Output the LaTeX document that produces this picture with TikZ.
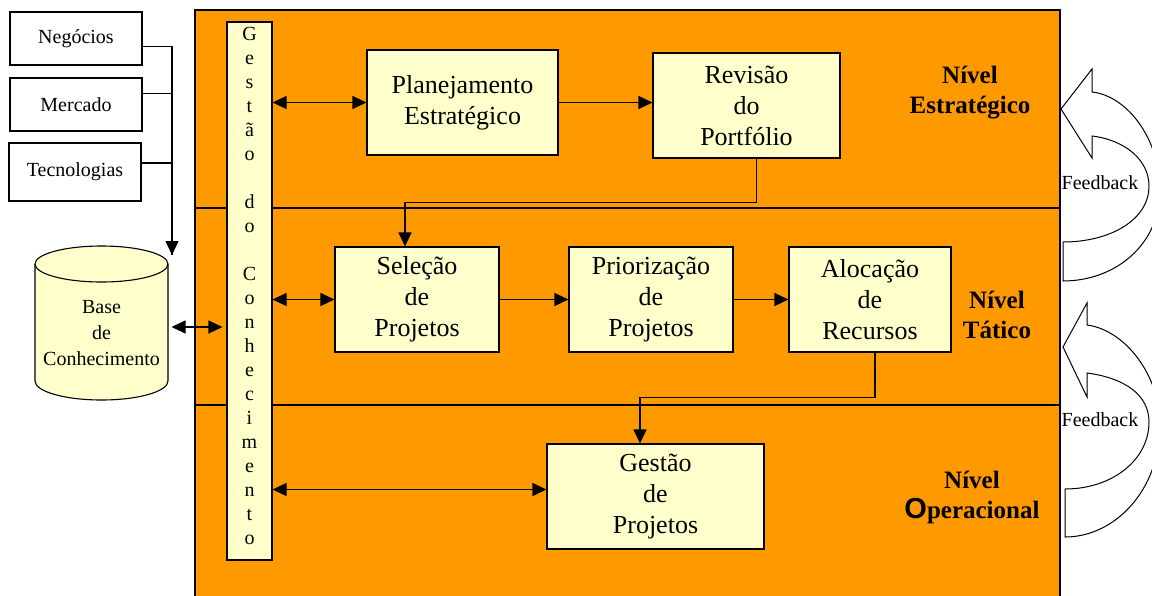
\documentclass[tikz,border=0pt]{standalone}
\usepackage{fontspec}
\setmainfont{Liberation Serif}
\newfontfamily\arialO{Liberation Sans}
\usetikzlibrary{arrows.meta,positioning}
\definecolor{laranja}{HTML}{FF9900}
\definecolor{creme}{HTML}{FFFFCC}

\begin{document}
\begin{tikzpicture}[x=1pt,y=-1pt,line width=1.1pt,
    caixa/.style={shape=rectangle,draw=black,fill=creme,align=center,inner sep=0pt,
        minimum height=105pt,font=\fontsize{26}{31}\selectfont},
    fonte/.style={shape=rectangle,draw=black,fill=white,inner sep=0pt,
        minimum width=132pt,font=\fontsize{20}{24}\selectfont},
    nivel/.style={align=center,font=\bfseries\fontsize{25}{30}\selectfont},
    seta/.style={-{Triangle[length=14pt,width=13pt]}},
    dupla/.style={{Triangle[length=14pt,width=13pt]}-{Triangle[length=14pt,width=13pt]}},
    retorno/.style={draw=black,fill=white,line width=1pt}]
    \useasboundingbox (0,0) rectangle (1152,595);
    \clip (0,0) rectangle (1152,595);

    % faixas dos niveis
    \fill[laranja] (195,10) rectangle (1060,600);
    \draw (195,600) -- (195,10) -- (1060,10) -- (1060,600);
    \draw (195,208) -- (1060,208);
    \draw (195,405) -- (1060,405);

    % gestao do conhecimento
    \node[shape=rectangle,draw=black,fill=creme,minimum width=45pt,minimum height=538pt,
        inner sep=0pt] (gc) at (249.5,291) {};
    \node[align=center,inner sep=0pt,font=\fontsize{20}{24}\selectfont] (gct) at (249.5,285.5)
        {G\\e\\s\\t\\ã\\o\\\mbox{}\\d\\o\\\mbox{}\\C\\o\\n\\h\\e\\c\\i\\m\\e\\n\\t\\o};

    % fontes externas
    \node[fonte,minimum height=53pt] (neg) at (76,38.5) {Negócios};
    \node[fonte,minimum height=53pt] (mer) at (76,104.5) {Mercado};
    \node[fonte,minimum height=58pt] (tec) at (75,172) {Tecnologias};

    % base de conhecimento
    \fill[creme] (35,264) -- (35,381) arc[start angle=180,end angle=360,x radius=66.5pt,y radius=19pt]
        -- (168,264) arc[start angle=0,end angle=180,x radius=66.5pt,y radius=18pt] -- cycle;
    \draw (35,264) -- (35,381) arc[start angle=180,end angle=360,x radius=66.5pt,y radius=19pt]
        -- (168,264);
    \draw (101.5,264) ellipse[x radius=66.5pt,y radius=18pt];
    \node[align=center,minimum width=133pt,inner sep=0pt,
        font=\fontsize{20}{26}\selectfont] (kb) at (101.5,333) {Base\\de\\Conhecimento};

    \coordinate (kbin) at (172,255);
    \draw ([yshift=-8pt]neg.east) -| (kbin);
    \draw ([yshift=11pt]mer.east) -- ++(30,0);
    \draw ([yshift=9pt]tec.east) -- ++(31,0);
    \draw[seta] (172,230) -- (kbin);
    \path [dupla,shorten >=4pt,shorten <=3pt] ([yshift=6pt]kb.east) edge ([yshift=6pt]gc.west |- kb.east);

    % processos
    \node[caixa,minimum width=191pt] (plan) at (462.5,102.5) {Planejamento\\Estratégico};
    \node[caixa,minimum width=187pt] (rev) at (746.5,105.5) {Revisão\\do\\Portfólio};
    \node[caixa,minimum width=164pt] (sel) at (417,299.5) {Seleção\\de\\Projetos};
    \node[caixa,minimum width=164pt] (prio) at (651,299.5) {Priorização\\de\\Projetos};
    \node[caixa,minimum width=162pt] (aloc) at (870,299.5) {Alocação\\de\\Recursos};
    \node[caixa,minimum width=217pt] (gp) at (655.5,496.5) {Gestão\\de\\Projetos};

    \path [dupla] (gc.east |- plan.west) edge (plan.west);
    \path [dupla] (gc.east |- sel.west) edge (sel.west);
    \path [dupla] ([yshift=7pt]gc.east |- gp.west) edge ([yshift=7pt]gp.west);

    \path [seta] (plan.east) edge (plan.east -| rev.west);
    \path [seta] (sel) edge (prio);
    \path [seta] (prio) edge (aloc);
    \draw[seta] ([xshift=10pt]rev.south) -- ++(0,44) -| ([xshift=-12pt]sel.north);
    \draw[seta] ([xshift=5pt]aloc.south) -- ++(0,45) -| ([xshift=-15.5pt]gp.north);

    % niveis
    \node[nivel] (ne) at (970,93) {Nível\\Estratégico};
    \node[nivel] (nt) at (997,315) {Nível\\Tático};
    \node[nivel] (no) at (972,497) {Nível\\{\arialO\fontsize{29}{30}\selectfont O}peracional};

    % feedback
    \draw[retorno] (1061,109) -- (1092,69) -- (1092,92)
        .. controls (1128,96) and (1160,140) .. (1160,190)
        .. controls (1160,245) and (1115,281) .. (1063,281) -- (1063,242)
        .. controls (1110,242) and (1149,220) .. (1149,186)
        .. controls (1149,160) and (1125,140) .. (1092,136) -- (1092,158) -- cycle;
    \draw[retorno] (1063,347) -- (1087,303) -- (1087,325)
        .. controls (1125,330) and (1160,375) .. (1160,425)
        .. controls (1160,490) and (1115,537) .. (1065,537) -- (1065,489)
        .. controls (1112,489) and (1149,460) .. (1149,422)
        .. controls (1149,395) and (1125,378) .. (1087,373) -- (1087,397) -- cycle;
    \node[font=\fontsize{20}{24}\selectfont,inner sep=0pt] (fb1) at (1100,183) {Feedback};
    \node[font=\fontsize{20}{24}\selectfont,inner sep=0pt] (fb2) at (1100,420) {Feedback};
\end{tikzpicture}
\end{document}
